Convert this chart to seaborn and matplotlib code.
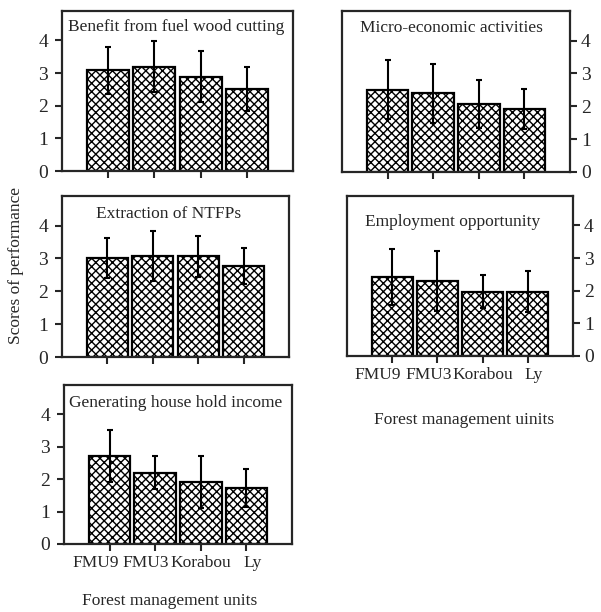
import matplotlib
matplotlib.use("Agg")
from matplotlib import pyplot as plt
from matplotlib import transforms
import seaborn as sns
import pandas as pd
import numpy as np

# =============================================================================
# data
# =============================================================================
units = ["FMU9", "FMU3", "Korabou", "Ly"]

fuel_mean = [3.08, 3.19, 2.89, 2.52]
fuel_sd = [0.71, 0.78, 0.78, 0.67]

micro_mean = [2.51, 2.39, 2.08, 1.92]
micro_sd = [0.90, 0.91, 0.73, 0.60]

ntfp_mean = [3.00, 3.06, 3.06, 2.77]
ntfp_sd = [0.61, 0.76, 0.63, 0.54]

employ_mean = [2.42, 2.29, 1.97, 1.97]
employ_sd = [0.86, 0.92, 0.51, 0.62]

income_mean = [2.70, 2.20, 1.91, 1.73]
income_sd = [0.80, 0.50, 0.79, 0.58]

titles = ["Benefit from fuel wood cutting", "Micro-economic activities",
          "Extraction of NTFPs", "Employment opportunity",
          "Generating house hold income"]

# =============================================================================
# style
# =============================================================================
sns.set_style("ticks")
plt.rcParams['font.family'] = ['Liberation Serif', 'DejaVu Serif']
plt.rcParams['font.size'] = 12.5
plt.rcParams['hatch.linewidth'] = 1.0
plt.rcParams['axes.linewidth'] = 1.6

W, H = 601, 612
fig = plt.figure(figsize=(W / 100, H / 100), dpi=100)

def box(l, r, t, b):
    return [l / W, 1 - b / H, (r - l) / W, (b - t) / H]

# (pixel box, mean, sd, title pos, right-side ticks, show x labels)
panels = [
    (box(62, 293, 11, 171), fuel_mean, fuel_sd, (0.496, 0.90), False, False),
    (box(342, 570, 11, 172), micro_mean, micro_sd, (0.478, 0.894), True, False),
    (box(62, 289, 196, 357), ntfp_mean, ntfp_sd, (0.469, 0.888), False, False),
    (box(347, 573, 196, 356), employ_mean, employ_sd, (0.468, 0.84), True, True),
    (box(64, 292, 385, 544), income_mean, income_sd, (0.488, 0.885), False, True),
]
label_shift = [-14, -9, 0, 6]

for k, (rect, mean, sd, tpos, right, xlab) in enumerate(panels):
    ax = fig.add_axes(rect)
    df = pd.DataFrame({"unit": units, "score": mean})
    sns.barplot(data=df, x="unit", y="score", ax=ax, color="white",
                edgecolor="black", linewidth=1.6, width=0.91, hatch="xxxx",
                errorbar=None)
    ax.errorbar(np.arange(len(units)), mean, yerr=sd, fmt="none",
                ecolor="black", elinewidth=1.5, capsize=2.5, capthick=1.5,
                zorder=5)
    ax.set_xlim(-1, 4)
    ax.set_ylim(0, 4.9)
    ax.set_yticks([0, 1, 2, 3, 4])
    ax.set_xlabel("")
    ax.set_ylabel("")
    ax.tick_params(direction="out", length=5, width=1.5, pad=3)
    ax.tick_params(axis="y", labelsize=14)
    if right:
        ax.yaxis.tick_right()
        ax.tick_params(axis="y", pad=3)
    else:
        ax.tick_params(axis="y", pad=5)
    if xlab:
        ax.set_xticks(range(len(units)))
        ax.set_xticklabels(units)
        for i, lab in enumerate(ax.get_xticklabels()):
            lab.set_transform(lab.get_transform() + transforms.ScaledTranslation(
                label_shift[i] / 100, 0, fig.dpi_scale_trans))
    else:
        ax.set_xticklabels([])
    for s in ax.spines.values():
        s.set_visible(True)
        s.set_linewidth(1.6)
    ax.text(tpos[0], tpos[1], titles[k], transform=ax.transAxes,
            ha="center", va="center", fontsize=12.5)

fig.text(16 / W, 1 - 265 / H, "Scores of performance", rotation=90,
         ha="center", va="center", fontsize=12.5)
fig.text(170 / W, 1 - 601 / H, "Forest management units",
         ha="center", va="center", fontsize=12.5)
fig.text(464 / W, 1 - 420 / H, "Forest management uinits",
         ha="center", va="center", fontsize=12.5)

fig.savefig("out.png", dpi=100, facecolor="white")
